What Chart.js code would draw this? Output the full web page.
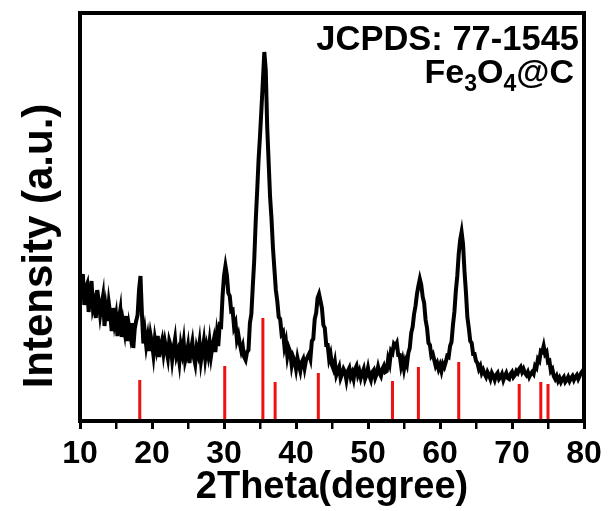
<!DOCTYPE html>
<html>
<head>
<meta charset="utf-8">
<script src="https://cdn.jsdelivr.net/npm/chart.js@4.4.1/dist/chart.umd.min.js"></script>
<style>
  body { margin: 0; background: #fff; }
  #wrap { position: relative; width: 609px; height: 511px; }
</style>
</head>
<body>
<div id="wrap"><canvas id="xrd" width="609" height="511"></canvas></div>
<script>
// scan settings (2theta, degrees)
const scanStart = 10;
const scanStep = 0.2;

// measured intensity, a.u., one value per step from 10 to 80
const intensity = [
  283, 250, 294, 232, 266, 274, 218, 250, 280, 226,
  238, 206, 262, 240, 212, 232, 250, 190, 224, 200,
  236, 214, 180, 226, 196, 212, 170, 204, 222, 168,
  196, 178, 210, 160, 190, 172, 196, 146, 184, 200,
  212, 262, 290, 215, 155, 178, 150, 168, 140, 172,
  156, 132, 164, 146, 170, 128, 150, 162, 136, 158,
  142, 126, 160, 150, 122, 146, 164, 130, 140, 118,
  152, 136, 158, 120, 132, 150, 116, 142, 158, 128,
  114, 146, 134, 156, 120, 140, 160, 126, 148, 132,
  158, 130, 150, 164, 138, 172, 150, 192, 190, 250,
  290, 310, 292, 256, 250, 220, 222, 188, 196, 162,
  172, 154, 140, 150, 128, 122, 138, 142, 196, 214,
  270, 322, 398, 458, 522, 570, 624, 680, 738, 702,
  588, 518, 448, 404, 346, 304, 262, 240, 208, 204,
  174, 178, 148, 160, 130, 146, 138, 112, 128, 120,
  104, 126, 112, 100, 118, 124, 106, 122, 128, 134,
  124, 160, 164, 204, 216, 246, 254, 240, 226, 192,
  186, 152, 152, 124, 134, 112, 104, 118, 92, 100,
  108, 86, 94, 104, 98, 82, 100, 106, 88, 96,
  84, 104, 110, 92, 100, 86, 96, 104, 84, 92,
  106, 90, 82, 98, 102, 86, 94, 108, 96, 90,
  104, 110, 98, 100, 124, 114, 140, 136, 154, 150,
  156, 132, 132, 110, 122, 104, 120, 112, 136, 146,
  176, 188, 214, 230, 254, 270, 284, 272, 248, 236,
  202, 186, 156, 152, 130, 134, 122, 110, 116, 104,
  112, 100, 114, 108, 118, 130, 128, 150, 158, 192,
  218, 260, 290, 334, 362, 378, 354, 300, 258, 208,
  186, 160, 156, 134, 134, 120, 116, 104, 110, 96,
  102, 94, 88, 98, 92, 84, 96, 90, 82, 92,
  96, 84, 88, 94, 82, 90, 96, 86, 84, 94,
  98, 88, 92, 100, 96, 104, 108, 98, 104, 96,
  92, 98, 88, 94, 98, 94, 110, 106, 124, 120,
  140, 138, 150, 134, 138, 118, 120, 100, 104, 90,
  84, 90, 80, 86, 78, 84, 88, 78, 82, 88,
  80, 86, 90, 82, 88, 92, 84, 90, 96, 100,
  104
];

// JCPDS 77-1545 reference lines
const refPeaks = [18.3, 30.1, 35.4, 37.1, 43.1, 53.4, 57.0, 62.6, 71.0, 74.0, 75.0];
const refHeights = [82, 110, 206, 78, 96, 80, 108, 118, 74, 78, 74];

const xTicks = [10, 20, 30, 40, 50, 60, 70, 80];
const xMinorTicks = [15, 25, 35, 45, 55, 65, 75];

const FONT = "'Liberation Sans', Arial, Helvetica, sans-serif";

const scanPoints = intensity.map((v, i) => ({ x: scanStart + i * scanStep, y: v }));
const refPoints = [];
refPeaks.forEach((p, i) => {
  refPoints.push({ x: p, y: 0 }, { x: p, y: refHeights[i] }, { x: p, y: null });
});

// box frame, titles and corner labels
const textPlugin = {
  id: 'texts',
  afterDraw(chart) {
    const ctx = chart.ctx;
    const xs = chart.scales.x;
    const area = chart.chartArea;
    const L = xs.getPixelForValue(10);
    const R = xs.getPixelForValue(80);
    const T = area.top;
    const B = xs.top;

    ctx.save();
    ctx.strokeStyle = '#000';
    ctx.lineWidth = 4;
    ctx.lineJoin = 'miter';
    ctx.beginPath();
    ctx.moveTo(L, B);
    ctx.lineTo(L, T);
    ctx.lineTo(R, T);
    ctx.lineTo(R, B);
    ctx.closePath();
    ctx.stroke();
    ctx.restore();

    ctx.save();
    ctx.fillStyle = '#000';
    ctx.font = 'bold 42px ' + FONT;
    ctx.textAlign = 'center';
    ctx.textBaseline = 'middle';
    ctx.translate(40, 246);
    ctx.rotate(-Math.PI / 2);
    ctx.fillText('Intensity (a.u.)', 0, 0);
    ctx.restore();

    ctx.save();
    ctx.fillStyle = '#000';
    ctx.textBaseline = 'alphabetic';
    ctx.textAlign = 'right';
    ctx.font = 'bold 34.5px ' + FONT;
    ctx.fillText('JCPDS: 77-1545', 579, 50);

    const parts = [
      { t: 'Fe', sub: false }, { t: '3', sub: true },
      { t: 'O', sub: false }, { t: '4', sub: true },
      { t: '@C', sub: false }
    ];
    ctx.textAlign = 'left';
    let total = 0;
    parts.forEach(pt => {
      ctx.font = (pt.sub ? 'bold 23px ' : 'bold 34px ') + FONT;
      pt.w = ctx.measureText(pt.t).width;
      total += pt.w;
    });
    let x = 574 - total;
    parts.forEach(pt => {
      ctx.font = (pt.sub ? 'bold 23px ' : 'bold 34px ') + FONT;
      ctx.fillText(pt.t, x, pt.sub ? 91 : 83);
      x += pt.w;
    });
    ctx.restore();
  }
};

new Chart(document.getElementById('xrd').getContext('2d'), {
  type: 'line',
  data: {
    datasets: [
      {
        label: 'JCPDS: 77-1545',
        data: refPoints,
        borderColor: '#ee1111',
        borderWidth: 3,
        pointRadius: 0,
        spanGaps: false,
        order: 2
      },
      {
        label: 'Fe3O4@C',
        data: scanPoints,
        borderColor: '#000',
        borderWidth: 4,
        pointRadius: 0,
        tension: 0,
        order: 1
      }
    ]
  },
  options: {
    responsive: false,
    animation: false,
    layout: { padding: { top: 13, right: 25, left: 80, bottom: 0 } },
    plugins: {
      legend: { display: false },
      tooltip: { enabled: false }
    },
    scales: {
      x: {
        type: 'linear',
        position: 'bottom',
        min: 10,
        max: 80,
        border: { display: true, width: 3, color: '#000' },
        grid: {
          display: true,
          drawOnChartArea: false,
          drawTicks: true,
          tickLength: 8,
          color: '#000',
          lineWidth: c => (xTicks.includes(c.tick && c.tick.value) ? 3 : 2.5)
        },
        afterBuildTicks: scale => {
          scale.ticks = xTicks.concat(xMinorTicks).sort((a, b) => a - b).map(v => ({ value: v }));
        },
        afterFit: scale => { scale.height = 90; },
        ticks: {
          padding: 6,
          color: '#000',
          autoSkip: false,
          maxRotation: 0,
          callback: v => (xTicks.includes(v) ? String(v) : ''),
          font: { family: FONT, size: 32, weight: 'bold' }
        },
        title: {
          display: true,
          text: '2Theta(degree)',
          color: '#000',
          padding: { top: 0, bottom: 1 },
          font: { family: FONT, size: 38, weight: 'bold' }
        }
      },
      y: {
        display: false,
        min: 0,
        max: 816
      }
    }
  },
  plugins: [textPlugin]
});
</script>
</body>
</html>
